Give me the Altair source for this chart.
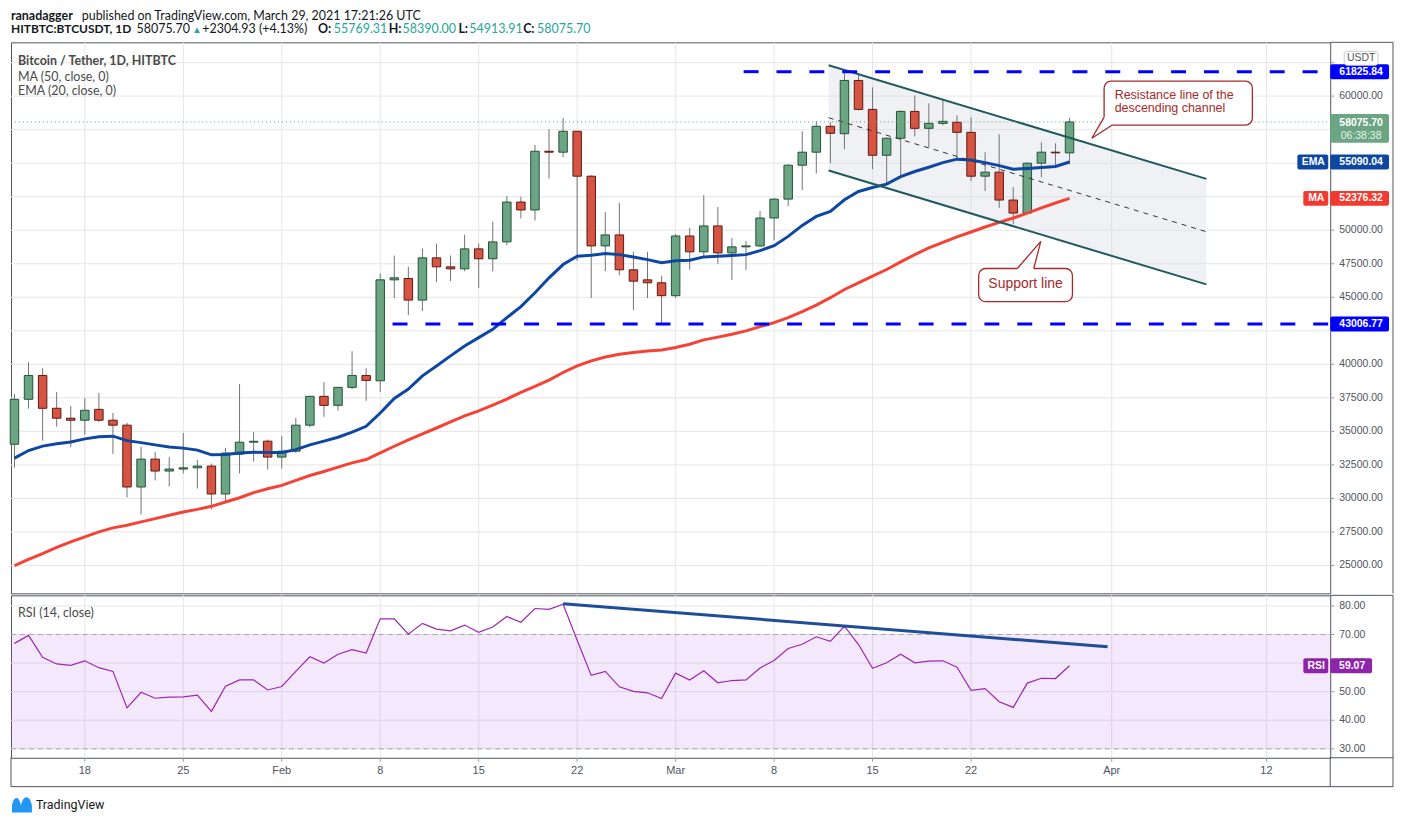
import altair as alt
import pandas as pd

# ---------------- data ----------------
dates = pd.date_range("2021-01-13", "2021-03-29", freq="D").strftime("%Y-%m-%d").tolist()

opens = [34040, 37390, 39170, 36720, 35980, 35830, 36640, 35830, 35460, 30850,
         32930, 32040, 32190, 32280, 32410, 30330, 33300, 34190, 34270, 33080,
         33520, 35460, 37610, 36940, 38280, 39170, 38770, 46300, 46400, 44790,
         47940, 47270, 47120, 48610, 47870, 49130, 52100, 51510, 55890, 55820,
         57380, 54030, 48830, 49650, 47050, 46300, 46080,
         45120, 49570, 48390, 50320, 48310, 48760, 48830, 50910, 52320, 54850,
         55820, 57750, 57200, 61170, 59010, 55590, 56860, 58860, 57600, 57970,
         58050, 57300, 54030, 54330, 52250, 51280, 55000, 55820, 55769.31]
highs = [37780, 40160, 39710, 37930, 36890, 37480, 37860, 36370, 35630, 33840,
         33470, 33100, 34880, 32880, 32600, 33770, 38520, 34960, 34390, 34660,
         36000, 37650, 38670, 38300, 40980, 39710, 46770, 48110, 47270, 48630,
         49000, 48110, 49670, 49000, 50640, 52570, 52500, 56360, 57530, 58370,
         57400, 54100, 51360, 52030, 48390, 48390, 46600,
         49720, 50170, 52620, 51730, 49430, 49200, 51430, 52400, 54900, 57380,
         58120, 58050, 61825.84, 61700, 60650, 56900, 58940, 60050, 59460, 59750,
         58570, 58420, 55820, 57150, 53220, 55050, 56560, 56490, 58390.00]
lows = [32280, 36690, 34310, 35350, 33820, 34740, 35700, 33320, 30080, 28810,
        31340, 30890, 31860, 30740, 29180, 29760, 31860, 32750, 32160, 32230,
        33400, 35300, 36090, 36540, 38150, 37280, 37950, 44920, 43670, 43970,
        46130, 46200, 46940, 45680, 46940, 48880, 50880, 50730, 53860, 55450,
        47720, 44940, 46940, 46650, 44050, 44940, 43006.77,
        44940, 47050, 48010, 47490, 46280, 47020, 48750, 49250, 51800, 52990,
        54230, 55000, 56040, 58940, 54550, 53360, 54110, 57000, 56190, 57820,
        55370, 53660, 52920, 51660, 50470, 51250, 53960, 54630, 54913.91]
closes = [37390, 39170, 36720, 35980, 35830, 36570, 35830, 35460, 30850, 32930,
          32040, 32190, 32280, 32410, 30330, 33380, 34190, 34260, 33080, 33520,
          35460, 37610, 36940, 38280, 39170, 38800, 46300, 46450, 44790, 47940,
          47270, 47120, 48610, 47870, 49130, 52100, 51510, 55890, 55820, 57380,
          54030, 48830, 49650, 47050, 46200, 46080, 45120,
          49570, 48390, 50320, 48310, 48760, 48830, 50910, 52320, 54850, 55820,
          57750, 57230, 61170, 59010, 55590, 56860, 58860, 57600, 57970, 58120,
          57300, 54030, 54330, 52250, 51280, 55000, 55820, 55770, 58075.70]
ema20 = [33000, 33570, 33900, 34070, 34210, 34440, 34590, 34640, 34310, 34160,
         33990, 33840, 33750, 33600, 33250, 33270, 33380, 33450, 33420, 33420,
         33640, 33990, 34270, 34560, 34940, 35380, 36370, 37450, 38150, 39140,
         39880, 40630, 41370, 41990, 42610, 43480, 44300, 45340, 46450, 47440,
         48060, 48130, 48260, 48180, 48010, 47810, 47570,
         47720, 47760, 48010, 48060, 48110, 48180, 48480, 48850, 49540, 50360,
         51030, 51400, 52270, 52890, 53190, 53440, 54000, 54380, 54700, 55040,
         55300, 55240, 55040, 54820, 54550, 54600, 54670, 54750, 55090.04]
ma50 = [24980, 25450, 25890, 26340, 26760, 27130, 27500, 27800, 28000, 28250,
        28490, 28740, 28990, 29180, 29410, 29730, 30050, 30430, 30720, 30970,
        31340, 31710, 32010, 32330, 32650, 32900, 33400, 33890, 34360, 34810,
        35250, 35700, 36150, 36520, 36960, 37410, 37910, 38350, 38820, 39390,
        39880, 40260, 40550, 40750, 40880, 41000, 41070,
        41250, 41500, 41820, 42030, 42240, 42490, 42810, 43110, 43480, 43930,
        44420, 44970, 45580, 46080, 46570, 47070, 47640, 48180, 48680, 49100,
        49500, 49870, 50240, 50590, 50910, 51280, 51660, 52030, 52376.32]
rsi14 = [66.9, 69.7, 62.0, 59.7, 59.2, 60.8, 58.4, 57.1, 44.3, 49.8,
         47.7, 48.1, 48.2, 48.8, 43.1, 51.9, 54.1, 54.1, 50.6, 51.8,
         57.1, 62.2, 60.0, 63.1, 64.7, 63.5, 75.5, 75.5, 70.1, 73.9,
         71.9, 71.3, 73.3, 70.8, 72.6, 76.3, 74.3, 79.1, 78.8, 80.6,
         68.0, 55.7, 57.1, 51.7, 50.1, 49.6, 47.6,
         56.5, 54.1, 57.3, 53.1, 53.9, 54.1, 58.3, 60.9, 65.1, 66.6,
         69.2, 67.6, 72.9, 66.5, 58.2, 60.1, 63.1, 60.1, 60.7, 60.8,
         58.6, 50.5, 51.1, 46.5, 44.5, 53.0, 54.7, 54.6, 59.07]

# drawings
chan_dates = ["2021-03-11T21:00:00Z", "2021-04-07T17:30:00Z"]
chan_upper = [62300, 53830]
chan_mid = [58390, 49890]
chan_lower = [54450, 45960]

level_prices = [61825.84, 43006.77]
level_starts = ["2021-03-05T20:00:00Z", "2021-02-08T21:00:00Z"]
level_end = "2021-04-16T12:48:00Z"

rsi_trend_dates = ["2021-02-21", "2021-03-31T17:00:00Z"]
rsi_trend_vals = [80.8, 65.7]

res_box_x = ["2021-03-31T11:00:00Z", "2021-04-11T00:00:00Z"]
res_box_y = [61115, 57845]
res_tail_x = ["2021-03-31T11:00:00Z", "2021-03-30T14:00:00Z", "2021-04-01T01:00:00Z"]
res_tail_y = [58418, 56857, 57845]
res_text = "Resistance line of the\ndescending channel"
res_text_x = "2021-04-01T05:00:00Z"
res_text_y = 60060

sup_box_x = ["2021-03-22T13:00:00Z", "2021-03-29T05:00:00Z"]
sup_box_y = [47144, 44670]
sup_tail_x = ["2021-03-25T07:00:00Z", "2021-03-26T23:00:00Z", "2021-03-26T11:00:00Z"]
sup_tail_y = [47144, 49173, 47144]
sup_text = "Support line"
sup_text_x = "2021-03-25T21:00:00Z"
sup_text_y = 45955

last_close = 58075.70
countdown = "06:38:38"
ema_last = 55090.04
ma_last = 52376.32
rsi_last = 59.07

price_ticks = [25000 + 2500 * i for i in range(16)]
# tick labels that are hidden behind the price tags on the axis are not drawn
price_hidden = [62500, 57500, 55000, 52500, 42500]
price_labels = [v for v in price_ticks if v not in price_hidden]
rsi_ticks = [30, 40, 50, 60, 70, 80]
tick_dates = ["2021-01-18", "2021-01-25", "2021-02-01", "2021-02-08", "2021-02-15",
              "2021-02-22", "2021-03-01", "2021-03-08", "2021-03-15", "2021-03-22",
              "2021-04-01", "2021-04-12"]
tick_labels = ["18", "25", "Feb", "8", "15", "22", "Mar", "8", "15", "22", "Apr", "12"]

header1 = ["ranadagger", "published on TradingView.com, March 29, 2021 17:21:26 UTC"]
header2 = ["HITBTC:BTCUSDT, 1D", "58075.70", "\u25b2", "+2304.93 (+4.13%)",
           "O:", "55769.31", "H:", "58390.00", "L:", "54913.91", "C:", "58075.70"]
legend_lines = ["Bitcoin / Tether, 1D, HITBTC", "MA (50, close, 0)", "EMA (20, close, 0)"]

# ---------------- layout ----------------
W = 1324
H1 = 553
H2 = 163
AX = 63


def ms(s):
    t = pd.Timestamp(s)
    if t.tzinfo is None:
        t = t.tz_localize("UTC")
    return int(t.value // 10**6)


xscale = alt.Scale(type="utc", domain=[ms("2021-01-12T18:03:00Z"), ms("2021-04-16T12:48:00Z")], padding=0)
yscale = alt.Scale(domain=[22919, 64013], nice=False, zero=False, padding=0)
rscale = alt.Scale(domain=[26.88, 83.71], nice=False, zero=False, padding=0)

AF = "Liberation Sans"
LF = "Lato"
GRID = "#e6e6e6"
FRAME = "#50535e"
LBL = "#50535e"
TICK = "#9598a1"

df = pd.DataFrame({"date": dates, "open": opens, "high": highs, "low": lows,
                   "close": closes, "ema": ema20, "ma": ma50, "rsi": rsi14})
df["dir"] = ["up" if c >= o else "down" for o, c in zip(opens, closes)]


def X(field="date:T"):
    return alt.X(field, scale=xscale, axis=None, title=None)


def Y(field):
    return alt.Y(field, scale=yscale, axis=None, title=None)


def R(field):
    return alt.Y(field, scale=rscale, axis=None, title=None)


one = alt.Data(values=[{}])


def txt(s, x, y, size=12.5, color="#131722", weight="normal", font=LF, align="left", baseline="alphabetic"):
    return alt.Chart(one).mark_text(text=s, x=x, y=y, fontSize=size, color=color,
                                    fontWeight=weight, font=font, align=align, baseline=baseline)


def prule(x, x2=None, y=None, y2=None, color=FRAME, width=1):
    enc = {"x": alt.value(x), "y": alt.value(y)}
    if x2 is not None:
        enc["x2"] = alt.value(x2)
    if y2 is not None:
        enc["y2"] = alt.value(y2)
    return alt.Chart(one).mark_rule(color=color, strokeWidth=width).encode(**enc)


tick_df = pd.DataFrame({"d": tick_dates, "t": tick_labels})
pt_df = pd.DataFrame({"v": price_ticks})
pl_df = pd.DataFrame({"v": price_labels})
rt_df = pd.DataFrame({"v": rsi_ticks})

# ---------- price panel ----------
p_grid_v = alt.Chart(tick_df).mark_rule(color=GRID).encode(x=X("d:T"), y=alt.value(0), y2=alt.value(H1))
p_grid_h = alt.Chart(pt_df).mark_rule(color=GRID).encode(x=alt.value(0), x2=alt.value(W), y=Y("v:Q"))
p_ticks = alt.Chart(pt_df).mark_rule(color=TICK).encode(x=alt.value(W), x2=alt.value(W + 4), y=Y("v:Q"))
p_labels = alt.Chart(pl_df).mark_text(x=W + 9, align="left", baseline="middle", font=AF, fontSize=10.5,
                                      color=LBL).encode(y=Y("v:Q"), text=alt.Text("v:Q", format=".2f"))

chan_df = pd.DataFrame({"d": chan_dates, "u": chan_upper, "m": chan_mid, "l": chan_lower})
chan_fill = alt.Chart(chan_df).mark_area(color="#d6dbe3", opacity=0.38).encode(
    x=X("d:T"), y=Y("u:Q"), y2="l:Q")
chan_u = alt.Chart(chan_df).mark_line(color="#215a5e", strokeWidth=2).encode(x=X("d:T"), y=Y("u:Q"))
chan_l = alt.Chart(chan_df).mark_line(color="#215a5e", strokeWidth=2).encode(x=X("d:T"), y=Y("l:Q"))
chan_m = alt.Chart(chan_df).mark_line(color="#333333", strokeWidth=1, strokeDash=[5, 5]).encode(
    x=X("d:T"), y=Y("m:Q"))

wicks = alt.Chart(df).mark_rule(color="#737375", strokeWidth=1).encode(
    x=X("date:T"), y=Y("low:Q"), y2="high:Q")
bodies = alt.Chart(df).mark_bar(size=8.5, strokeWidth=1).encode(
    x=X(), y=Y("open:Q"), y2="close:Q",
    fill=alt.Fill("dir:N", scale=alt.Scale(domain=["up", "down"], range=["#6ba583", "#d75442"]), legend=None),
    stroke=alt.Stroke("dir:N", scale=alt.Scale(domain=["up", "down"], range=["#225437", "#5b1a13"]), legend=None))
ema_line = alt.Chart(df).mark_line(color="#0d47a1", strokeWidth=3).encode(x=X(), y=Y("ema:Q"))
ma_line = alt.Chart(df).mark_line(color="#f44336", strokeWidth=3).encode(x=X(), y=Y("ma:Q"))

lev_df = pd.DataFrame({"s": level_starts, "e": [level_end, level_end], "p": level_prices})
levels = alt.Chart(lev_df).mark_rule(color="#0000ff", strokeWidth=3, strokeDash=[15, 18]).encode(
    x=X("s:T"), x2="e:T", y=Y("p:Q"))

last_line = alt.Chart(alt.Data(values=[{"p": last_close}])).mark_rule(
    color="#5e9c76", strokeWidth=1, strokeDash=[1, 3]).encode(x=alt.value(0), x2=alt.value(W), y=Y("p:Q"))

CALL = "#a52a2a"
res_box = alt.Chart(alt.Data(values=[{"x1": res_box_x[0], "x2": res_box_x[1], "y1": res_box_y[0], "y2": res_box_y[1]}])).mark_rect(
    fill="white", stroke=CALL, strokeWidth=1.3, cornerRadius=7, cornerRadiusBottomLeft=0).encode(
    x=X("x1:T"), x2="x2:T", y=Y("y1:Q"), y2="y2:Q")
res_mask_df = pd.DataFrame({"d": [res_tail_x[0], res_box_x[0], res_tail_x[2]],
                            "p": [res_tail_y[0], res_box_y[1], res_tail_y[2]], "o": [0, 1, 2]})
res_mask = alt.Chart(res_mask_df).mark_line(color="white", strokeWidth=3).encode(
    x=X("d:T"), y=Y("p:Q"), order="o:Q")
res_tail = alt.Chart(pd.DataFrame({"d": res_tail_x, "p": res_tail_y, "o": [0, 1, 2]})).mark_line(
    color=CALL, strokeWidth=1.3).encode(x=X("d:T"), y=Y("p:Q"), order="o:Q")
res_txt = alt.Chart(alt.Data(values=[{"d": res_text_x, "p": res_text_y, "t": res_text}])).mark_text(
    color=CALL, fontSize=12.5, font=AF, align="left", baseline="middle", lineBreak="\n", lineHeight=13).encode(
    x=X("d:T"), y=Y("p:Q"), text="t:N")

sup_box = alt.Chart(alt.Data(values=[{"x1": sup_box_x[0], "x2": sup_box_x[1], "y1": sup_box_y[0], "y2": sup_box_y[1]}])).mark_rect(
    fill="white", stroke=CALL, strokeWidth=1.3, cornerRadius=7).encode(
    x=X("x1:T"), x2="x2:T", y=Y("y1:Q"), y2="y2:Q")
sup_mask = alt.Chart(pd.DataFrame({"d": [sup_tail_x[0], sup_tail_x[2]], "p": [sup_tail_y[0], sup_tail_y[2]]})).mark_line(
    color="white", strokeWidth=3).encode(x=X("d:T"), y=Y("p:Q"))
sup_tail = alt.Chart(pd.DataFrame({"d": sup_tail_x, "p": sup_tail_y, "o": [0, 1, 2]})).mark_line(
    color=CALL, strokeWidth=1.3).encode(x=X("d:T"), y=Y("p:Q"), order="o:Q")
sup_txt = alt.Chart(alt.Data(values=[{"d": sup_text_x, "p": sup_text_y, "t": sup_text}])).mark_text(
    color=CALL, fontSize=14, font=AF, align="center", baseline="middle").encode(
    x=X("d:T"), y=Y("p:Q"), text="t:N")


def tag(value, label, color, x1, x2, tx, scale_fn, h=15, size=10.5):
    d = alt.Data(values=[{"v": value, "t": label}])
    b = alt.Chart(d).mark_bar(orient="horizontal", size=h, color=color, cornerRadius=2).encode(
        y=scale_fn("v:Q"), x=alt.value(x1), x2=alt.value(x2))
    t = alt.Chart(d).mark_text(color="white", fontSize=size, font=AF, fontWeight="bold",
                               align="center", baseline="middle", x=tx).encode(y=scale_fn("v:Q"), text="t:N")
    return [b, t]


tags = []
tags += tag(level_prices[0], f"{level_prices[0]:.2f}", "#0000ff", W, W + 59, W + 31, Y)
tags += tag(level_prices[1], f"{level_prices[1]:.2f}", "#0000ff", W, W + 59, W + 31, Y)
tags += tag(ema_last, f"{ema_last:.2f}", "#0d47a1", W, W + 59, W + 31, Y)
tags += tag(ema_last, "EMA", "#0d47a1", W - 33, W - 2, W - 17, Y)
tags += tag(ma_last, f"{ma_last:.2f}", "#f23a30", W, W + 59, W + 31, Y)
tags += tag(ma_last, "MA", "#f23a30", W - 27, W - 2, W - 14, Y)
lc = alt.Data(values=[{"v": last_close, "t": f"{last_close:.2f}", "c": countdown}])
tags.append(alt.Chart(lc).mark_bar(orient="horizontal", size=29, color="#6ba583", cornerRadius=2, yOffset=6.5).encode(
    y=Y("v:Q"), x=alt.value(W), x2=alt.value(W + 59)))
tags.append(alt.Chart(lc).mark_text(color="white", fontSize=10.5, font=AF, fontWeight="bold", align="center",
                                    baseline="middle", x=W + 31, dy=1).encode(y=Y("v:Q"), text="t:N"))
tags.append(alt.Chart(lc).mark_text(color="#e8f3ec", fontSize=10.5, font=AF, align="center",
                                    baseline="middle", x=W + 31, dy=14).encode(y=Y("v:Q"), text="c:N"))

usdt_box = alt.Chart(one).mark_rect(fill="white", stroke="#c9c9c9", cornerRadius=3).encode(
    x=alt.value(W + 14), x2=alt.value(W + 48), y=alt.value(9), y2=alt.value(23))
usdt_txt = txt("USDT", W + 31, 16, size=10.5, color="#555555", font=AF, align="center", baseline="middle")

hx2 = [0, 126, 182, 192, 308, 324, 379, 393, 449, 460, 514, 528]
hcol = ["#131722", "#131722", "#26a69a", "#131722", "#131722", "#26a69a",
        "#131722", "#26a69a", "#131722", "#26a69a", "#131722", "#26a69a"]
hwt = ["bold", "normal", "normal", "normal", "bold", "normal", "bold", "normal", "bold", "normal", "bold", "normal"]
hsz = [12, 12.5, 9.5, 12.5, 12.5, 12.5, 12.5, 12.5, 12.5, 12.5, 12.5, 12.5]
head = [txt(header1[0], 0, -22, weight="bold"), txt(header1[1], 71, -22)]
for s, x, c, w, z in zip(header2, hx2, hcol, hwt, hsz):
    head.append(txt(s, x, -9, color=c, weight=w, size=z))
legend = [txt(legend_lines[0], 7, 19, color="#4a4a4a", weight="bold", baseline="middle"),
          txt(legend_lines[1], 7, 35, color="#4a4a4a", baseline="middle"),
          txt(legend_lines[2], 7, 49, color="#4a4a4a", baseline="middle")]

frame_p = [prule(W, W + AX, 0), prule(W + AX, None, 0, H1)]

price = alt.layer(
    p_grid_v, p_grid_h, p_ticks, p_labels,
    chan_fill, wicks, bodies, ema_line, ma_line, chan_u, chan_l, chan_m, levels, last_line,
    res_box, res_mask, res_tail, res_txt, sup_box, sup_mask, sup_tail, sup_txt,
    *tags, usdt_box, usdt_txt, *head, *legend, *frame_p
).properties(width=W, height=H1)

# ---------- RSI panel ----------
r_grid_v = alt.Chart(tick_df).mark_rule(color=GRID).encode(x=X("d:T"), y=alt.value(0), y2=alt.value(H2))
r_grid_h = alt.Chart(rt_df).mark_rule(color=GRID).encode(x=alt.value(0), x2=alt.value(W), y=R("v:Q"))
r_ticks = alt.Chart(rt_df).mark_rule(color=TICK).encode(x=alt.value(W), x2=alt.value(W + 4), y=R("v:Q"))
r_labels = alt.Chart(rt_df).mark_text(x=W + 9, align="left", baseline="middle", font=AF, fontSize=10.5,
                                      color=LBL).encode(y=R("v:Q"), text=alt.Text("v:Q", format=".2f"))
x_ticks = alt.Chart(tick_df).mark_rule(color=TICK).encode(x=X("d:T"), y=alt.value(H2), y2=alt.value(H2 + 4))
x_labels = alt.Chart(tick_df).mark_text(y=H2 + 13, align="center", baseline="middle", font=AF, fontSize=11,
                                        color=LBL).encode(x=X("d:T"), text="t:N")

band = alt.Chart(alt.Data(values=[{"hi": 70, "lo": 30}])).mark_rect(color="#9b3fe8", opacity=0.12).encode(
    x=alt.value(0), x2=alt.value(W), y=R("hi:Q"), y2="lo:Q")
band_lines = alt.Chart(alt.Data(values=[{"v": 70}, {"v": 30}])).mark_rule(
    color="#a8a8a8", strokeDash=[5, 4], strokeWidth=1).encode(x=alt.value(0), x2=alt.value(W), y=R("v:Q"))
rsi_line = alt.Chart(df).mark_line(color="#9c27b0", strokeWidth=1.2).encode(x=X("date:T"), y=R("rsi:Q"))
rsi_tr = alt.Chart(pd.DataFrame({"d": rsi_trend_dates, "v": rsi_trend_vals})).mark_line(
    color="#1f4e99", strokeWidth=3).encode(x=X("d:T"), y=R("v:Q"))
rtags = tag(rsi_last, f"{rsi_last:.2f}", "#8e24aa", W, W + 42, W + 22, R) + \
        tag(rsi_last, "RSI", "#8e24aa", W - 27, W - 2, W - 14, R)
rsi_leg = txt("RSI (14, close)", 7, 18, color="#4a4a4a", baseline="middle")

logo = alt.Chart(one).mark_point(
    shape="M-1,0.8 L-1,0.1 C-0.8,-0.9 -0.3,-0.9 -0.1,0.1 C0.1,-1.0 0.8,-1.0 1,0.1 L1,0.8 Z",
    size=400, filled=True, color="#2196f3", opacity=1, x=11, y=210)
logo_txt = txt("TradingView", 25, 210, size=12.5, color="#131722", font="Roboto", baseline="middle")

frame_r = [prule(W + AX, None, 0, H2 + 29), prule(0, W + AX, H2 + 29), prule(W, W + AX, 0),
           prule(W, W + AX, H2), prule(0, None, H2, H2 + 29), prule(W, None, H2, H2 + 29)]

rsi = alt.layer(r_grid_v, r_grid_h, band, band_lines, r_ticks, r_labels, x_ticks, x_labels,
                rsi_line, rsi_tr, *rtags, rsi_leg, logo, logo_txt, *frame_r
                ).properties(width=W, height=H2)

chart = alt.vconcat(price, rsi, spacing=0, padding=0, background="white").configure_view(
    stroke=FRAME, strokeWidth=1)

chart.save("out.html", embed_options={"renderer": "svg", "actions": False})
